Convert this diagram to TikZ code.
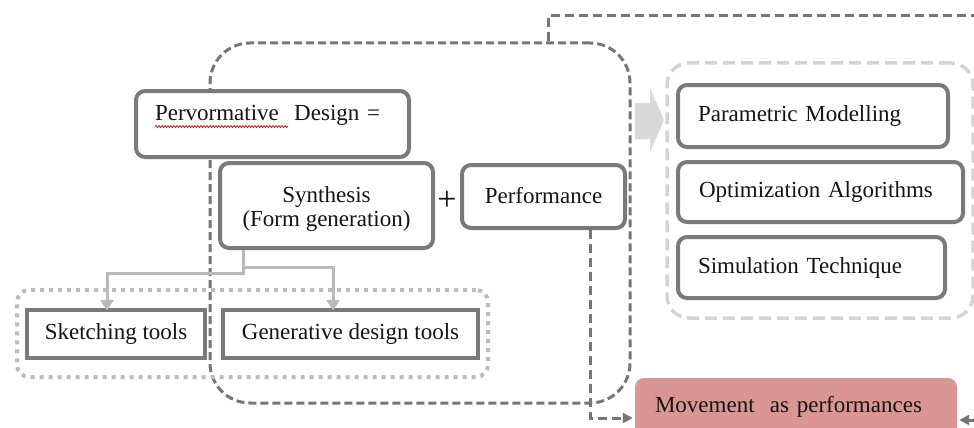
\documentclass[tikz,border=0pt]{standalone}
\usepackage{fontspec}
\setmainfont{Liberation Serif}
\usetikzlibrary{arrows.meta,decorations.pathmorphing,calc}
\definecolor{boxline}{RGB}{122,122,122}
\definecolor{dashdark}{RGB}{118,118,118}
\definecolor{dashlight}{RGB}{212,212,212}
\definecolor{dotgray}{RGB}{188,188,188}
\definecolor{treeline}{RGB}{185,185,185}
\definecolor{bigarrow}{RGB}{217,217,217}
\definecolor{movefill}{RGB}{217,150,149}
\definecolor{inktext}{RGB}{20,20,20}
\tikzset{
  every node/.style={font=\fontsize{23}{27}\selectfont, text=inktext},
  roundbox/.style={draw=boxline, line width=4pt, rounded corners=9pt, fill=white, inner sep=0pt},
  squarebox/.style={draw=boxline, line width=4.5pt, fill=white, inner sep=0pt},
  loopframe/.style={draw=dashdark, line width=3pt, dash pattern=on 8pt off 4pt, rounded corners=40pt, inner sep=0pt},
  toolframe/.style={draw=dotgray, line width=4pt, dash pattern=on 4pt off 5pt, rounded corners=12pt, inner sep=0pt},
  methodframe/.style={draw=dashlight, line width=3.5pt, dash pattern=on 12pt off 6pt, rounded corners=22pt, inner sep=0pt},
  feedback/.style={draw=dashdark, line width=3pt, dash pattern=on 9pt off 5pt},
  feedtip/.style={-{Triangle[length=10pt,width=10pt]}},
  treearrow/.style={draw=treeline, line width=3pt, -{Triangle[length=11pt,width=13pt]}},
}
\begin{document}
\begin{tikzpicture}[x=1pt,y=-1pt]
\useasboundingbox (0,0) rectangle (974,428);

% containers
\node[loopframe, minimum width=420pt, minimum height=360pt] (loop) at (420,223) {};
\node[toolframe, minimum width=471pt, minimum height=87pt] (tools) at (252.5,333.5) {};
\node[methodframe, minimum width=306pt, minimum height=255pt] (methods) at (820,190.5) {};

% broad arrow between the loop and the methods
\fill[bigarrow] (635,103) -- (650,103) -- (650,88) -- (664,120) -- (650,152) -- (650,139) -- (635,139) -- cycle;

% main boxes
\node[roundbox, minimum width=273pt, minimum height=66pt, text width=235pt, align=left, text height=16pt, text depth=24pt] (pd) at (272.5,124) {Pervormative\ \ Design =};
\draw[red!80!black, line width=0.7pt, decorate, decoration={snake, amplitude=1pt, segment length=3pt}] (155,126.5) -- (288,126.5);
\node[roundbox, minimum width=213pt, minimum height=85pt, align=center, font=\fontsize{23}{23.5}\selectfont] (syn) at (326.5,205.5) {\rule{0pt}{23pt}Synthesis\\(Form generation)};
\node[font=\fontsize{34}{34}\selectfont] (plus) at (447,201) {+};
\node[roundbox, minimum width=163pt, minimum height=63pt, text height=16pt, text depth=2pt] (perf) at (543.5,196.5) {Performance};

% tool boxes
\node[squarebox, minimum width=178pt, minimum height=48pt] (sk) at (116,334) {Sketching tools};
\node[squarebox, minimum width=255pt, minimum height=48pt] (gen) at (350.5,334) {Generative design tools};

% method boxes
\node[roundbox, minimum width=270pt, minimum height=62pt, text width=230pt, align=left] (pm) at (813,116) {Parametric Modelling};
\node[roundbox, minimum width=285pt, minimum height=60pt, text width=243pt, align=left] (oa) at (820.5,192) {Optimization Algorithms};
\node[roundbox, minimum width=267pt, minimum height=61pt, text width=227pt, align=left] (st) at (811.5,267.5) {Simulation Technique};

% outcome box
\node[fill=movefill, rounded corners=9pt, minimum width=322pt, minimum height=62pt, text width=282pt, align=left, inner sep=0pt, text height=16pt, text depth=10pt] (mv) at (796,409) {Movement\ \ as performances};

% synthesis branches
\draw[treearrow] (243,0 |- syn.south) -- (243,273) -| ([yshift=-3pt]107,0 |- sk.north);
\draw[treearrow] (243,267) -| ([yshift=-3pt]333,0 |- gen.north);

% feedback paths
\coordinate (fbx) at (548,16);
\coordinate (fbr) at (974,16);
\draw[feedback] (fbx |- loop.north) -- (fbx) -- (fbr);
\coordinate (pdrop) at (590,418);
\draw[feedback, feedtip] (590,0 |- perf.south) -- (pdrop) -- ([xshift=-2pt]pdrop -| mv.west);
\coordinate (fbin) at (974,420);
\draw[feedback, feedtip] (fbin) -- ([xshift=2pt]fbin -| mv.east);
\end{tikzpicture}
\end{document}
